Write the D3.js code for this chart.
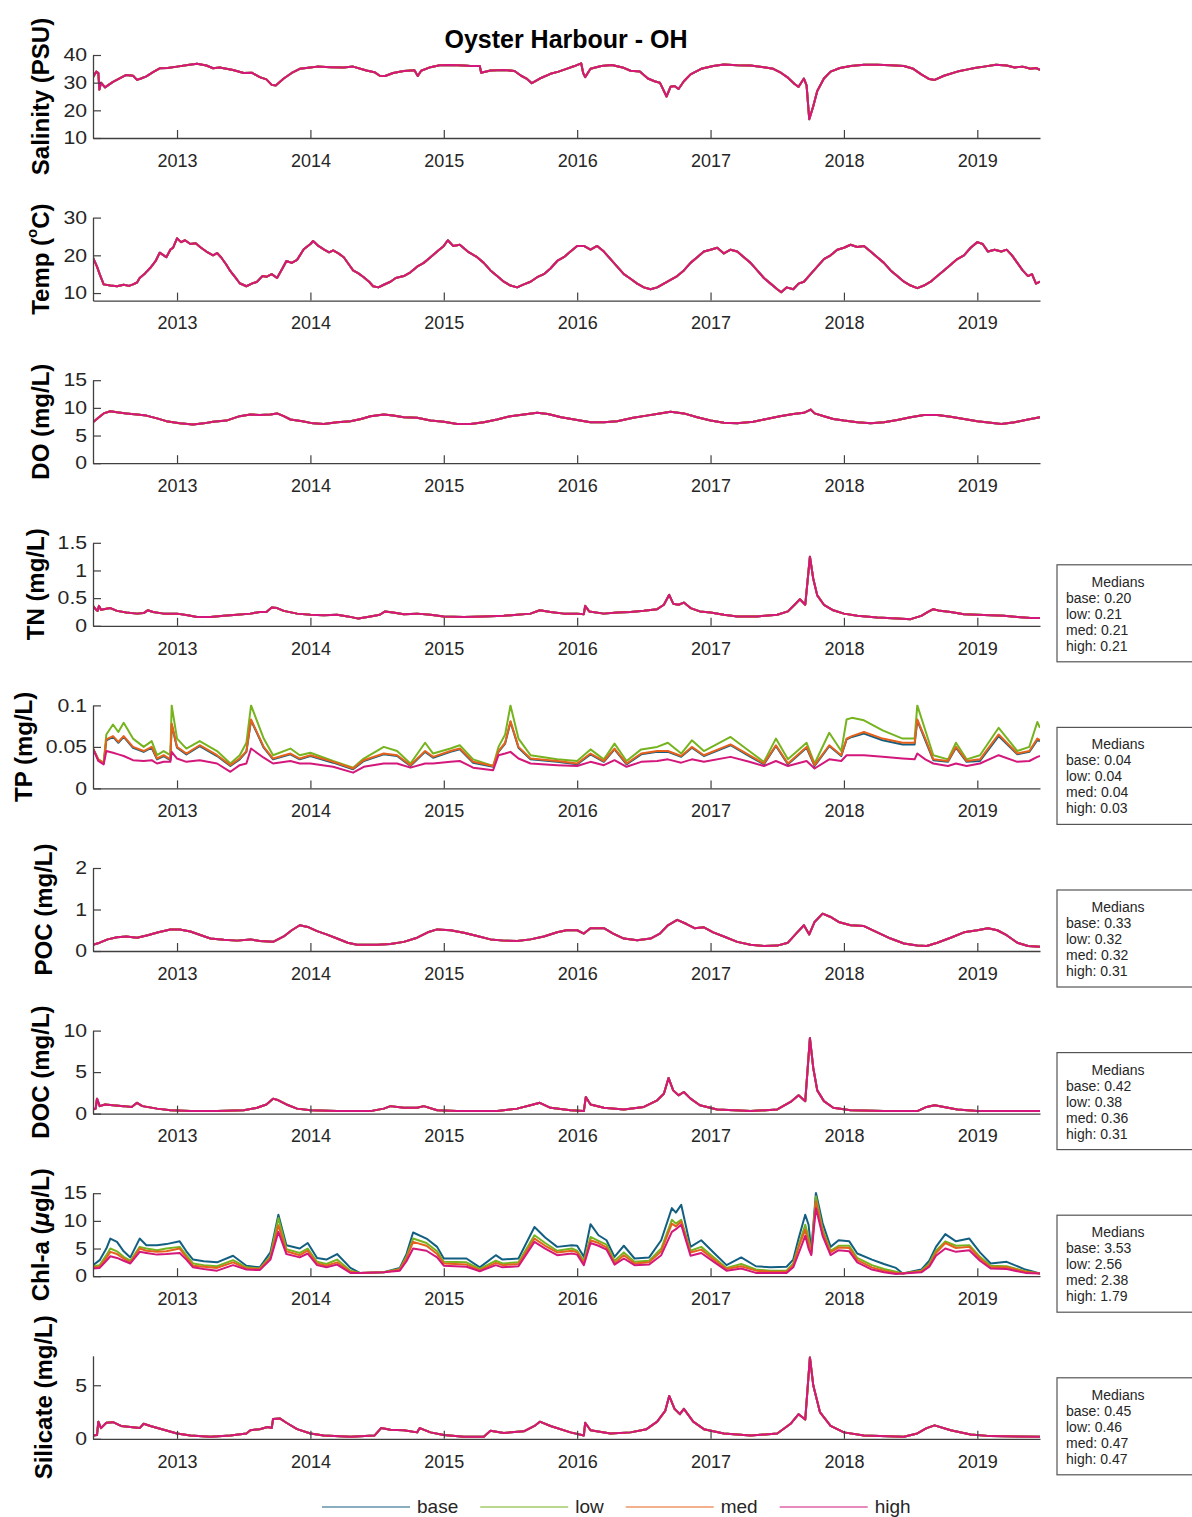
<!DOCTYPE html>
<html><head><meta charset="utf-8">
<script src="https://cdn.jsdelivr.net/npm/d3@7"></script>
<style>body{margin:0;background:#fff}svg{display:block;font-family:"Liberation Sans",Arial,sans-serif}</style>
</head><body><svg id="c" width="1192" height="1517"></svg>
<script>
// ---------------- DATA ----------------
const scenarios = ["base","low","med","high"];
const scenarioColors = ["#135f82","#76b41f","#e6621c","#d3177b"];
const yearTicks = [2013,2014,2015,2016,2017,2018,2019];
const xDomain = [2012.37, 2019.47];

// single-series panels: [decimal year, value] (all four scenarios overlap)
const salinity = [[2012.37,32],[2012.395,34],[2012.41,33.5],[2012.418,27.5],[2012.43,30],[2012.46,28.3],[2012.52,30.3],[2012.58,31.8],[2012.62,32.8],[2012.67,32.5],[2012.70,31],[2012.73,31.5],[2012.77,32.3],[2012.82,33.8],[2012.87,35.2],[2012.93,35.3],[2013.0,35.8],[2013.08,36.4],[2013.15,36.8],[2013.22,36.2],[2013.27,35.2],[2013.32,35.5],[2013.42,34.6],[2013.5,33.5],[2013.56,33.6],[2013.62,32],[2013.67,31.2],[2013.71,29.2],[2013.74,29],[2013.8,31.5],[2013.86,33.5],[2013.92,35],[2014.0,35.5],[2014.05,35.8],[2014.15,35.6],[2014.25,35.5],[2014.32,35.8],[2014.42,34.4],[2014.48,33.8],[2014.52,32.5],[2014.56,32.4],[2014.62,33.5],[2014.7,34.2],[2014.78,34.5],[2014.805,32.4],[2014.83,34.3],[2014.9,35.6],[2014.97,36.3],[2015.05,36.4],[2015.15,36.2],[2015.2,36],[2015.27,36],[2015.28,33.6],[2015.35,34.4],[2015.45,34.6],[2015.53,34.2],[2015.58,32.5],[2015.62,31.5],[2015.66,29.8],[2015.72,31.5],[2015.8,33.2],[2015.86,34],[2015.92,35],[2015.98,36],[2016.03,37],[2016.045,33.5],[2016.06,32],[2016.1,35],[2016.18,36],[2016.26,36.4],[2016.34,35.5],[2016.4,34.3],[2016.47,34],[2016.53,31.5],[2016.58,30.5],[2016.62,30],[2016.67,25],[2016.7,28.5],[2016.73,28.8],[2016.76,27.7],[2016.8,30.5],[2016.85,33],[2016.93,35],[2017.02,36],[2017.1,36.6],[2017.2,36.3],[2017.3,36.2],[2017.4,35.6],[2017.47,35],[2017.53,33.5],[2017.58,31.8],[2017.63,29.5],[2017.66,28.5],[2017.7,31.5],[2017.72,29],[2017.74,16.8],[2017.77,21.5],[2017.8,27],[2017.85,31.5],[2017.9,34],[2017.97,35.3],[2018.05,36],[2018.15,36.5],[2018.25,36.5],[2018.35,36.3],[2018.45,36],[2018.52,35],[2018.58,33],[2018.64,31.3],[2018.68,31],[2018.75,32.5],[2018.85,34],[2018.93,34.8],[2018.98,35.3],[2019.05,35.8],[2019.14,36.5],[2019.22,36.2],[2019.28,35.5],[2019.34,35.8],[2019.4,35],[2019.44,35.3],[2019.47,34.6]];

const temperature = [[2012.37,19.4],[2012.4,17],[2012.42,15],[2012.45,12.3],[2012.5,12],[2012.55,11.8],[2012.6,12.2],[2012.64,11.9],[2012.67,12.3],[2012.7,12.8],[2012.72,14],[2012.76,15.2],[2012.8,16.7],[2012.84,18.5],[2012.87,20.7],[2012.9,20],[2012.92,19.5],[2012.95,21.5],[2012.97,22],[2013.0,24.5],[2013.03,23.5],[2013.06,24],[2013.1,23],[2013.14,23.2],[2013.18,22],[2013.22,21],[2013.27,20],[2013.3,20.6],[2013.33,19.5],[2013.37,17.5],[2013.4,15.8],[2013.44,14],[2013.47,12.6],[2013.52,11.8],[2013.56,12.5],[2013.6,13],[2013.64,14.5],[2013.67,14.3],[2013.71,15],[2013.75,14],[2013.79,16.5],[2013.82,18.5],[2013.86,18],[2013.9,18.8],[2013.95,21.6],[2014.0,23],[2014.02,23.8],[2014.06,22.5],[2014.1,21.6],[2014.14,20.8],[2014.17,21.3],[2014.21,20.5],[2014.25,19.5],[2014.29,17.5],[2014.32,16],[2014.36,15.2],[2014.4,14.2],[2014.44,13],[2014.47,11.8],[2014.51,11.5],[2014.55,12.2],[2014.6,13],[2014.64,14],[2014.7,14.5],[2014.75,15.5],[2014.8,17],[2014.85,18],[2014.9,19.5],[2014.95,21],[2015.0,22.5],[2015.03,24],[2015.07,22.5],[2015.12,22.8],[2015.18,21],[2015.25,19.5],[2015.3,18],[2015.35,16],[2015.4,14.5],[2015.45,13],[2015.5,12],[2015.55,11.5],[2015.6,12.3],[2015.65,13],[2015.7,14.2],[2015.75,15],[2015.8,16.5],[2015.85,18.5],[2015.9,19.5],[2015.95,21],[2016.0,22.5],[2016.05,22.5],[2016.1,21.5],[2016.15,22.5],[2016.2,21],[2016.25,19],[2016.3,17],[2016.35,15],[2016.4,13.8],[2016.45,12.5],[2016.5,11.5],[2016.55,11],[2016.6,11.5],[2016.65,12.5],[2016.7,13.5],[2016.75,14.5],[2016.8,16],[2016.85,18],[2016.9,19.5],[2016.95,21],[2017.0,21.5],[2017.05,22],[2017.1,20.5],[2017.15,21.5],[2017.2,21],[2017.25,19.5],[2017.3,18],[2017.35,16],[2017.4,14],[2017.45,12.5],[2017.5,11],[2017.53,10.2],[2017.57,11.5],[2017.62,11],[2017.66,12.5],[2017.7,13],[2017.75,15],[2017.8,17],[2017.85,19],[2017.9,20],[2017.95,21.5],[2018.0,22],[2018.05,22.8],[2018.1,22.2],[2018.15,22.5],[2018.2,21],[2018.25,19.5],[2018.3,18],[2018.35,16],[2018.4,14.5],[2018.45,13],[2018.5,12],[2018.55,11.3],[2018.6,12],[2018.65,13],[2018.7,14.5],[2018.75,16],[2018.8,17.5],[2018.85,19],[2018.9,20],[2018.95,22],[2019.0,23.5],[2019.04,23],[2019.08,21],[2019.13,21.5],[2019.18,21],[2019.22,21.5],[2019.26,20],[2019.3,18],[2019.34,16],[2019.38,14.5],[2019.41,15],[2019.44,12.5],[2019.47,13]];

const dissolvedOxygen = [[2012.37,7.4],[2012.41,8.2],[2012.45,9.0],[2012.5,9.4],[2012.55,9.2],[2012.62,9.0],[2012.7,8.8],[2012.77,8.6],[2012.85,8.1],[2012.92,7.6],[2013.02,7.2],[2013.12,7.0],[2013.2,7.2],[2013.27,7.5],[2013.37,7.7],[2013.47,8.5],[2013.55,8.8],[2013.62,8.7],[2013.7,8.8],[2013.75,9.0],[2013.8,8.5],[2013.85,7.9],[2013.94,7.6],[2014.02,7.2],[2014.1,7.1],[2014.2,7.4],[2014.3,7.6],[2014.38,8.0],[2014.45,8.5],[2014.55,8.8],[2014.62,8.6],[2014.7,8.3],[2014.8,8.2],[2014.9,7.7],[2015.0,7.5],[2015.1,7.1],[2015.2,7.1],[2015.3,7.4],[2015.4,7.9],[2015.5,8.5],[2015.6,8.8],[2015.7,9.1],[2015.78,8.9],[2015.88,8.3],[2016.0,7.8],[2016.1,7.4],[2016.2,7.4],[2016.3,7.6],[2016.42,8.2],[2016.52,8.6],[2016.62,9.0],[2016.7,9.3],[2016.8,9.0],[2016.9,8.3],[2017.0,7.7],[2017.1,7.3],[2017.2,7.2],[2017.32,7.5],[2017.42,8.0],[2017.52,8.5],[2017.62,8.9],[2017.7,9.1],[2017.75,9.7],[2017.78,9.0],[2017.85,8.5],[2017.92,8.0],[2018.0,7.7],[2018.1,7.4],[2018.2,7.2],[2018.3,7.4],[2018.4,7.8],[2018.5,8.3],[2018.6,8.7],[2018.7,8.7],[2018.8,8.4],[2018.9,8.0],[2019.0,7.6],[2019.1,7.3],[2019.18,7.1],[2019.28,7.4],[2019.38,7.9],[2019.47,8.3]];

const totalNitrogen = [[2012.37,0.36],[2012.39,0.3],[2012.405,0.27],[2012.415,0.36],[2012.43,0.29],[2012.47,0.31],[2012.5,0.32],[2012.55,0.27],[2012.62,0.24],[2012.7,0.22],[2012.75,0.23],[2012.78,0.28],[2012.82,0.25],[2012.9,0.22],[2013.0,0.22],[2013.08,0.19],[2013.15,0.16],[2013.25,0.16],[2013.35,0.18],[2013.45,0.2],[2013.55,0.22],[2013.62,0.25],[2013.67,0.25],[2013.71,0.33],[2013.75,0.32],[2013.8,0.27],[2013.9,0.22],[2014.0,0.2],[2014.1,0.19],[2014.2,0.2],[2014.28,0.17],[2014.36,0.13],[2014.45,0.17],[2014.52,0.2],[2014.56,0.26],[2014.62,0.24],[2014.7,0.21],[2014.8,0.22],[2014.9,0.2],[2015.0,0.17],[2015.15,0.16],[2015.3,0.17],[2015.45,0.18],[2015.55,0.2],[2015.65,0.22],[2015.72,0.28],[2015.8,0.25],[2015.9,0.22],[2016.0,0.22],[2016.05,0.21],[2016.06,0.36],[2016.09,0.26],[2016.2,0.22],[2016.3,0.24],[2016.4,0.25],[2016.5,0.27],[2016.6,0.3],[2016.65,0.38],[2016.69,0.56],[2016.72,0.4],[2016.76,0.38],[2016.8,0.42],[2016.85,0.32],[2016.92,0.26],[2017.0,0.24],[2017.1,0.2],[2017.2,0.17],[2017.35,0.17],[2017.5,0.2],[2017.58,0.26],[2017.63,0.38],[2017.67,0.48],[2017.71,0.38],[2017.745,1.25],[2017.77,0.85],[2017.8,0.55],[2017.85,0.38],[2017.92,0.28],[2018.0,0.22],[2018.1,0.18],[2018.25,0.15],[2018.4,0.13],[2018.5,0.12],[2018.58,0.18],[2018.63,0.25],[2018.67,0.3],[2018.72,0.27],[2018.8,0.25],[2018.9,0.21],[2019.0,0.2],[2019.1,0.19],[2019.2,0.18],[2019.3,0.16],[2019.4,0.14],[2019.47,0.14]];

const particulateOC = [[2012.37,0.15],[2012.42,0.2],[2012.48,0.28],[2012.55,0.33],[2012.62,0.35],[2012.7,0.32],[2012.78,0.38],[2012.86,0.45],[2012.95,0.52],[2013.02,0.52],[2013.1,0.47],[2013.18,0.38],[2013.25,0.3],[2013.35,0.27],[2013.45,0.25],[2013.55,0.28],[2013.62,0.24],[2013.72,0.22],[2013.8,0.35],[2013.86,0.5],[2013.92,0.62],[2013.98,0.58],[2014.05,0.48],[2014.12,0.4],[2014.2,0.3],[2014.28,0.2],[2014.35,0.15],[2014.5,0.15],[2014.6,0.17],[2014.7,0.22],[2014.8,0.32],[2014.88,0.45],[2014.95,0.52],[2015.05,0.5],[2015.15,0.44],[2015.25,0.36],[2015.35,0.28],[2015.45,0.25],[2015.55,0.24],[2015.65,0.28],[2015.75,0.35],[2015.85,0.45],[2015.92,0.5],[2016.0,0.5],[2016.05,0.42],[2016.1,0.55],[2016.2,0.55],[2016.27,0.42],[2016.35,0.3],[2016.45,0.26],[2016.55,0.3],[2016.62,0.42],[2016.68,0.62],[2016.75,0.75],[2016.82,0.65],[2016.88,0.55],[2016.95,0.57],[2017.02,0.45],[2017.1,0.35],[2017.2,0.22],[2017.3,0.15],[2017.4,0.12],[2017.5,0.13],[2017.58,0.2],[2017.65,0.45],[2017.7,0.62],[2017.74,0.4],[2017.78,0.7],[2017.84,0.9],[2017.9,0.82],[2017.96,0.7],[2018.05,0.62],[2018.15,0.6],[2018.25,0.45],[2018.35,0.3],[2018.45,0.18],[2018.55,0.13],[2018.62,0.12],[2018.7,0.2],[2018.8,0.32],[2018.9,0.45],[2019.0,0.5],[2019.08,0.55],[2019.15,0.5],[2019.22,0.38],[2019.3,0.2],[2019.38,0.12],[2019.47,0.1]];

const dissolvedOC = [[2012.37,0.5],[2012.39,0.6],[2012.4,1.8],[2012.42,0.9],[2012.46,1.1],[2012.52,1.0],[2012.6,0.9],[2012.66,0.8],[2012.7,1.3],[2012.74,0.9],[2012.85,0.6],[2012.95,0.4],[2013.1,0.3],[2013.3,0.3],[2013.5,0.4],[2013.6,0.7],[2013.67,1.1],[2013.72,1.8],[2013.76,1.6],[2013.82,1.1],[2013.9,0.6],[2014.0,0.4],[2014.2,0.3],[2014.45,0.3],[2014.55,0.6],[2014.6,0.9],[2014.7,0.7],[2014.8,0.7],[2014.85,0.9],[2014.95,0.4],[2015.1,0.3],[2015.4,0.3],[2015.55,0.6],[2015.65,1.0],[2015.72,1.3],[2015.8,0.7],[2015.95,0.4],[2016.05,0.3],[2016.065,2.0],[2016.1,1.1],[2016.2,0.7],[2016.35,0.5],[2016.5,0.8],[2016.6,1.6],[2016.65,2.4],[2016.685,4.3],[2016.72,2.8],[2016.76,2.2],[2016.8,2.6],[2016.85,1.8],[2016.92,1.0],[2017.05,0.5],[2017.3,0.3],[2017.5,0.5],[2017.6,1.4],[2017.66,2.2],[2017.71,1.5],[2017.745,9.1],[2017.77,5.5],[2017.8,2.8],[2017.85,1.5],[2017.92,0.7],[2018.05,0.4],[2018.3,0.3],[2018.55,0.3],[2018.62,0.8],[2018.68,1.0],[2018.75,0.8],[2018.85,0.5],[2019.0,0.3],[2019.2,0.3],[2019.47,0.3]];

const silicate = [[2012.37,0.3],[2012.4,0.35],[2012.41,1.6],[2012.43,1.0],[2012.47,1.5],[2012.52,1.55],[2012.58,1.2],[2012.65,1.1],[2012.72,1.0],[2012.75,1.4],[2012.8,1.2],[2012.9,0.85],[2013.0,0.5],[2013.1,0.3],[2013.25,0.2],[2013.4,0.3],[2013.52,0.5],[2013.55,0.8],[2013.62,0.9],[2013.68,1.1],[2013.71,1.0],[2013.72,1.85],[2013.77,1.9],[2013.82,1.5],[2013.9,0.9],[2014.0,0.5],[2014.1,0.3],[2014.3,0.2],[2014.48,0.3],[2014.53,1.0],[2014.6,0.85],[2014.7,0.8],[2014.8,0.6],[2014.82,1.0],[2014.9,0.6],[2015.0,0.35],[2015.15,0.2],[2015.3,0.2],[2015.35,0.75],[2015.45,0.55],[2015.6,0.7],[2015.68,1.2],[2015.72,1.6],[2015.8,1.2],[2015.95,0.6],[2016.05,0.3],[2016.06,1.5],[2016.1,0.8],[2016.25,0.5],[2016.4,0.6],[2016.52,0.9],[2016.6,1.6],[2016.66,2.6],[2016.69,4.0],[2016.73,2.8],[2016.77,2.3],[2016.8,2.8],[2016.87,1.6],[2016.95,0.9],[2017.1,0.5],[2017.3,0.3],[2017.5,0.5],[2017.6,1.4],[2017.66,2.3],[2017.71,1.8],[2017.745,7.6],[2017.77,5.0],[2017.82,2.5],[2017.9,1.2],[2018.0,0.6],[2018.15,0.3],[2018.45,0.2],[2018.55,0.5],[2018.62,1.0],[2018.68,1.25],[2018.8,0.8],[2018.95,0.4],[2019.1,0.25],[2019.47,0.2]];

// multi-series panels: [decimal year, base, low, med, high]
const totalPhosphorus = [
[2012.37,0.048,0.048,0.048,0.048],[2012.41,0.034,0.035,0.035,0.033],[2012.45,0.03,0.031,0.03,0.029],[2012.47,0.058,0.065,0.059,0.045],
[2012.52,0.062,0.077,0.063,0.043],[2012.56,0.055,0.068,0.056,0.041],[2012.6,0.062,0.079,0.063,0.039],[2012.67,0.049,0.06,0.05,0.034],
[2012.75,0.044,0.05,0.045,0.033],[2012.81,0.049,0.057,0.05,0.034],[2012.85,0.035,0.04,0.036,0.03],[2012.9,0.039,0.045,0.04,0.032],
[2012.95,0.034,0.04,0.035,0.032],[2012.96,0.077,0.1,0.078,0.044],[2013.0,0.049,0.06,0.05,0.036],[2013.07,0.041,0.048,0.042,0.032],
[2013.17,0.051,0.057,0.052,0.034],[2013.3,0.039,0.045,0.04,0.03],[2013.4,0.027,0.03,0.028,0.02],[2013.47,0.035,0.04,0.036,0.028],
[2013.52,0.044,0.055,0.045,0.03],[2013.555,0.082,0.1,0.083,0.048],[2013.65,0.049,0.06,0.05,0.037],[2013.72,0.035,0.04,0.036,0.03],
[2013.85,0.041,0.048,0.042,0.033],[2013.92,0.035,0.04,0.036,0.03],[2014.0,0.039,0.043,0.04,0.03],[2014.17,0.031,0.033,0.032,0.026],
[2014.32,0.023,0.025,0.024,0.019],[2014.4,0.033,0.036,0.034,0.026],[2014.55,0.041,0.05,0.042,0.03],[2014.65,0.039,0.045,0.04,0.03],
[2014.75,0.027,0.03,0.028,0.025],[2014.86,0.044,0.055,0.045,0.03],[2014.92,0.037,0.042,0.038,0.03],[2015.05,0.044,0.048,0.045,0.032],
[2015.12,0.047,0.052,0.048,0.033],[2015.22,0.031,0.035,0.032,0.025],[2015.37,0.026,0.027,0.027,0.022],[2015.41,0.044,0.05,0.045,0.04],
[2015.46,0.054,0.065,0.055,0.042],[2015.5,0.08,0.1,0.081,0.044],[2015.56,0.049,0.06,0.05,0.036],[2015.65,0.035,0.04,0.036,0.03],
[2015.85,0.032,0.035,0.033,0.028],[2016.0,0.029,0.033,0.03,0.027],[2016.1,0.041,0.047,0.042,0.032],[2016.2,0.032,0.035,0.033,0.028],
[2016.28,0.047,0.054,0.048,0.034],[2016.37,0.029,0.033,0.03,0.026],[2016.48,0.041,0.047,0.042,0.032],[2016.6,0.044,0.05,0.045,0.033],
[2016.68,0.044,0.055,0.045,0.035],[2016.78,0.038,0.042,0.039,0.031],[2016.86,0.049,0.058,0.05,0.035],[2016.95,0.039,0.045,0.04,0.032],
[2017.15,0.052,0.062,0.053,0.038],[2017.29,0.039,0.045,0.04,0.032],[2017.4,0.029,0.032,0.03,0.027],[2017.49,0.051,0.06,0.052,0.033],
[2017.58,0.029,0.035,0.03,0.027],[2017.72,0.049,0.055,0.05,0.033],[2017.78,0.027,0.03,0.028,0.024],[2017.89,0.051,0.067,0.052,0.035],
[2017.98,0.039,0.045,0.04,0.033],[2018.02,0.059,0.083,0.06,0.04],[2018.06,0.062,0.085,0.063,0.04],[2018.15,0.066,0.082,0.068,0.04],
[2018.29,0.058,0.07,0.06,0.038],[2018.44,0.053,0.06,0.055,0.036],[2018.53,0.053,0.06,0.055,0.035],[2018.55,0.082,0.1,0.083,0.042],
[2018.61,0.058,0.07,0.06,0.035],[2018.67,0.034,0.04,0.035,0.03],[2018.78,0.032,0.035,0.033,0.027],[2018.84,0.049,0.055,0.05,0.03],
[2018.92,0.032,0.035,0.033,0.027],[2019.02,0.033,0.04,0.035,0.03],[2019.16,0.063,0.073,0.065,0.04],[2019.3,0.041,0.045,0.042,0.032],
[2019.39,0.044,0.05,0.045,0.033],[2019.45,0.058,0.08,0.06,0.038],[2019.47,0.057,0.073,0.058,0.039]];

const chlorophyll = [
[2012.37,2.0,1.8,1.6,1.4],[2012.42,2.9,2.0,1.7,1.5],[2012.47,5.0,3.8,3.3,2.8],[2012.5,6.8,5.0,4.4,3.6],[2012.55,6.2,4.5,4.0,3.3],
[2012.6,4.5,3.5,3.2,2.8],[2012.65,3.4,2.8,2.5,2.3],[2012.72,6.8,5.3,5.0,4.4],[2012.77,5.6,5.0,4.6,4.2],[2012.85,5.6,4.7,4.4,3.9],
[2012.92,5.8,5.0,4.5,4.0],[2013.02,6.3,5.3,5.0,4.2],[2013.07,4.5,3.8,3.4,3.0],[2013.12,3.0,2.3,1.9,1.6],[2013.2,2.7,2.0,1.7,1.3],
[2013.3,2.5,1.8,1.5,1.0],[2013.42,3.7,2.9,2.5,2.0],[2013.52,1.9,1.6,1.4,1.2],[2013.62,1.6,1.4,1.3,1.1],[2013.7,4.3,3.6,3.3,3.0],
[2013.76,11.1,10.5,9.2,8.0],[2013.82,5.6,4.9,4.5,4.0],[2013.92,5.0,4.2,3.8,3.4],[2013.98,6.0,5.0,4.6,4.1],[2014.05,3.3,2.6,2.3,2.0],
[2014.12,3.0,2.2,1.9,1.6],[2014.2,4.0,3.0,2.5,2.1],[2014.3,1.5,1.0,0.8,0.6],[2014.37,0.6,0.6,0.6,0.6],[2014.55,0.7,0.7,0.7,0.7],
[2014.67,1.5,1.3,1.2,1.0],[2014.72,4.0,3.5,3.2,2.7],[2014.77,7.9,6.8,6.2,5.0],[2014.87,6.8,6.0,5.5,4.6],[2014.95,5.3,4.5,4.0,3.4],
[2015.0,3.2,2.6,2.3,1.9],[2015.17,3.2,2.5,2.1,1.7],[2015.27,1.6,1.3,1.1,0.9],[2015.39,3.8,2.8,2.4,2.0],[2015.44,3.0,2.3,2.0,1.6],
[2015.56,3.2,2.5,2.2,1.8],[2015.68,8.9,7.4,6.8,6.2],[2015.76,7.0,6.0,5.5,5.0],[2015.85,5.3,4.6,4.3,3.8],[2015.96,5.6,5.0,4.6,4.1],
[2016.0,5.5,4.6,4.3,3.9],[2016.05,3.5,2.8,2.4,2.0],[2016.1,9.4,7.1,6.5,6.0],[2016.16,7.4,6.4,6.0,5.5],[2016.22,6.5,5.7,5.2,4.8],
[2016.28,3.5,2.8,2.4,2.1],[2016.35,5.5,4.3,3.8,3.2],[2016.43,3.2,2.6,2.3,2.0],[2016.54,3.4,2.8,2.5,2.1],[2016.63,6.5,5.0,4.5,3.8],
[2016.71,12.3,10.2,9.5,8.0],[2016.74,11.5,9.5,9.0,8.5],[2016.78,12.9,10.2,9.9,9.3],[2016.85,5.3,4.6,4.3,3.7],[2016.93,6.5,5.3,4.8,4.2],
[2017.03,4.1,3.3,2.9,2.5],[2017.12,2.0,1.5,1.3,1.0],[2017.23,3.4,2.2,1.8,1.4],[2017.34,1.8,1.2,1.0,0.6],[2017.45,1.6,1.0,0.8,0.6],
[2017.57,1.7,1.0,0.8,0.6],[2017.62,3.0,2.3,2.0,1.6],[2017.66,6.8,5.6,5.2,4.1],[2017.71,11.1,9.3,8.4,7.3],[2017.735,9.3,7.0,6.0,5.0],
[2017.755,4.5,4.2,4.0,3.8],[2017.79,15.1,14.4,13.5,12.3],[2017.84,9.6,8.5,8.0,7.3],[2017.9,5.3,4.6,4.3,3.8],[2017.96,6.5,5.5,5.2,4.7],
[2018.04,6.3,5.5,5.1,4.5],[2018.1,4.1,3.3,2.9,2.5],[2018.21,3.0,2.0,1.6,1.2],[2018.3,2.2,1.3,1.0,0.7],[2018.39,1.5,0.8,0.6,0.4],
[2018.44,0.5,0.5,0.5,0.5],[2018.58,1.2,1.0,0.9,0.7],[2018.64,2.8,2.3,2.0,1.7],[2018.69,5.3,4.6,4.2,3.7],[2018.76,7.6,6.3,6.0,5.0],
[2018.84,6.3,5.5,5.1,4.4],[2018.94,6.8,5.6,5.3,4.7],[2019.02,4.3,3.5,3.2,2.8],[2019.1,2.3,1.9,1.6,1.4],[2019.22,2.6,1.8,1.6,1.3],
[2019.36,1.2,0.9,0.8,0.6],[2019.47,0.5,0.5,0.5,0.5]];

// medians per panel [base, low, med, high]
const mediansTN  = ["0.20","0.21","0.21","0.21"];
const mediansTP  = ["0.04","0.04","0.04","0.03"];
const mediansPOC = ["0.33","0.32","0.32","0.31"];
const mediansDOC = ["0.42","0.38","0.36","0.31"];
const mediansChl = ["3.53","2.56","2.38","1.79"];
const mediansSi  = ["0.45","0.46","0.47","0.47"];

// y tick labels per panel
const ticksSal = [10,20,30,40], ticksTemp=[10,20,30], ticksDO=[0,5,10,15], ticksTN=[0,0.5,1,1.5],
      ticksTP=[0,0.05,0.1], ticksPOC=[0,1,2], ticksDOC=[0,5,10], ticksChl=[0,5,10,15], ticksSi=[0,5];

// ---------------- PANELS ----------------
function single(arr){ return scenarios.map(()=>arr.map(d=>[d[0],d[1]])); }
function multi(rows){ return scenarios.map((s,i)=>rows.map(r=>[r[0],r[i+1]])); }

const panels = [
  {label:"sal",  domain:[10,40], ticks:ticksSal,  series:single(salinity),        med:null},
  {label:"temp", domain:[8,30],  ticks:ticksTemp, series:single(temperature),     med:null},
  {label:"DO (mg/L)", domain:[0,15], ticks:ticksDO, series:single(dissolvedOxygen), med:null},
  {label:"TN (mg/L)", domain:[0,1.5], ticks:ticksTN, series:single(totalNitrogen), med:mediansTN},
  {label:"TP (mg/L)", domain:[0,0.1], ticks:ticksTP, series:multi(totalPhosphorus), med:mediansTP},
  {label:"POC (mg/L)", domain:[0,2], ticks:ticksPOC, series:single(particulateOC), med:mediansPOC},
  {label:"DOC (mg/L)", domain:[0,10], ticks:ticksDOC, series:single(dissolvedOC), med:mediansDOC},
  {label:"chl", domain:[0,15], ticks:ticksChl, series:multi(chlorophyll), med:mediansChl},
  {label:"Silicate (mg/L)", domain:[0,7.75], ticks:ticksSi, series:single(silicate), med:mediansSi}
];

const svg = d3.select("#c");
const left=93, right=1040, top0=55, step=162.6, ph=83;
const x = d3.scaleLinear().domain(xDomain).range([left,right]);
const axisColor="#404040", textColor="#262626";
const yTickScale = 1.18;

svg.append("text").attr("x",566).attr("y",48).attr("text-anchor","middle")
  .attr("font-size",25).attr("font-weight","bold").attr("fill","#000").text("Oyster Harbour - OH");

panels.forEach((p,i)=>{
  const top = top0 + i*step, bottom = top+ph;
  const y = d3.scaleLinear().domain(p.domain).range([bottom,top]);
  const g = svg.append("g");
  const cid="clip"+i;
  svg.append("clipPath").attr("id",cid).append("rect").attr("x",left).attr("y",top-1).attr("width",right-left).attr("height",ph+1);
  const line = d3.line().x(d=>x(d[0])).y(d=>y(d[1]));
  const lg = g.append("g").attr("clip-path",`url(#${cid})`);
  p.series.forEach((s,k)=>{
    lg.append("path").attr("d",line(s)).attr("fill","none").attr("stroke",scenarioColors[k])
      .attr("stroke-width",2).attr("stroke-linejoin","round");
  });
  // axes
  const xa = g.append("g").attr("transform",`translate(0,${bottom})`)
    .call(d3.axisBottom(x).tickValues(yearTicks).tickFormat(d3.format("d")).tickSize(-8).tickSizeOuter(0).tickPadding(16));
  const ya = g.append("g").attr("transform",`translate(${left},0)`)
    .call(d3.axisLeft(y).tickValues(p.ticks).tickFormat(d=>String(d)).tickSize(-8).tickSizeOuter(0).tickPadding(5));
  [xa,ya].forEach(a=>{
    a.select(".domain").attr("stroke",axisColor).attr("stroke-width",1.3);
    a.selectAll(".tick line").attr("stroke",axisColor).attr("stroke-width",1.2);
    a.selectAll(".tick text").attr("fill",textColor).attr("font-size",18).attr("font-family",'"Liberation Sans",Arial,sans-serif');
  });
  let maxW = 0;
  ya.selectAll(".tick text").attr("transform",`scale(${yTickScale},1)`).each(function(){
    maxW = Math.max(maxW, this.getComputedTextLength()*yTickScale);
  });
  const tickLeft = left - 5*yTickScale - maxW;
  // y label
  const cy=(top+bottom)/2;
  const lx = Math.min(tickLeft - 14, 52);
  const yl = svg.append("text").attr("transform",`translate(${lx},${cy}) rotate(-90)`)
    .attr("text-anchor","middle").attr("font-size",24).attr("font-weight","bold").attr("fill","#000");
  if(p.label==="sal"){ yl.text("Salinity (PSU)"); }
  else if(p.label==="temp"){
    yl.append("tspan").text("Temp (");
    yl.append("tspan").attr("font-size",15).attr("dy",-12).text("o");
    yl.append("tspan").attr("dy",12).text("C)");
  } else if(p.label==="chl"){
    yl.append("tspan").text("Chl-a (");
    yl.append("tspan").attr("font-style","italic").text("μ");
    yl.append("tspan").text("g/L)");
  } else yl.text(p.label);
  // medians box
  if(p.med){
    const bx=1057, by=top+22;
    const mg = svg.append("g");
    mg.append("rect").attr("x",bx).attr("y",by).attr("width",140).attr("height",97)
      .attr("fill","#fff").attr("stroke","#555").attr("stroke-width",1.2);
    mg.append("text").attr("x",bx+61).attr("y",by+22).attr("text-anchor","middle")
      .attr("font-size",14).attr("fill",textColor).text("Medians");
    p.med.forEach((m,k)=>{
      mg.append("text").attr("x",bx+9).attr("y",by+38+k*16).attr("font-size",14).attr("fill",textColor)
        .text(`${scenarios[k]}: ${m}`);
    });
  }
});

// bottom legend
const leg = svg.append("g");
let lx = 322; const ly = 1507;
scenarios.forEach((s,k)=>{
  leg.append("line").attr("x1",lx).attr("x2",lx+88).attr("y1",ly).attr("y2",ly)
    .attr("stroke",scenarioColors[k]).attr("stroke-width",1.2);
  const t = leg.append("text").attr("x",lx+95).attr("y",ly+6).attr("font-size",19).attr("fill",textColor).text(s);
  lx += 95 + t.node().getComputedTextLength() + 22;
});
</script></body></html>
